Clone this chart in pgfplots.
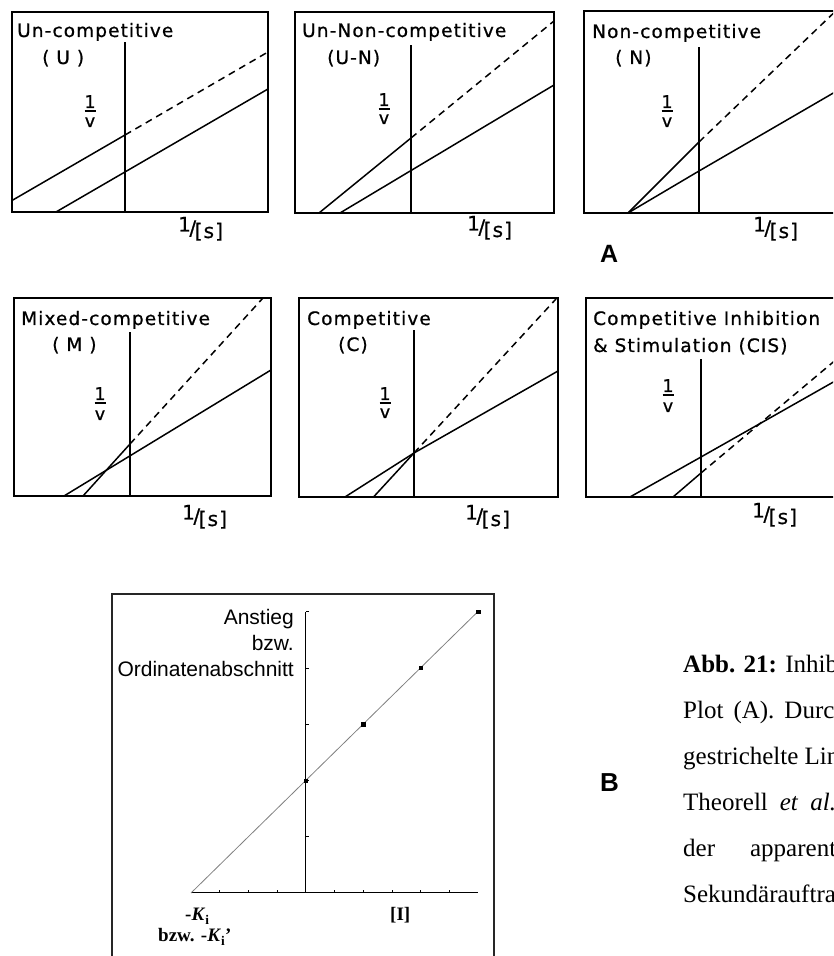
\documentclass[border=0pt]{standalone}
\usepackage{pgfplots}
\pgfplotsset{compat=1.18}
\usepackage{fontspec}
\setmainfont{Liberation Serif}
\newfontfamily\lett{DejaVu Sans}[LetterSpace=6, FakeBold=0.8]
\newfontfamily\arial{Liberation Sans}
\newcommand{\LT}{\lett\fontsize{18.5}{18.5}\selectfont}
\newcommand{\LS}{\lett\fontsize{17.5}{17.5}\selectfont}
\newcommand{\LB}{\lett\fontsize{20}{20}\selectfont}
\pgfplotsset{
  panel/.style={scale only axis, anchor=south west, xtick=\empty, ytick=\empty,
    axis line style={line width=1.7pt}, clip=true},
  inh/.style={line width=1.5pt, black},
  dsh/.style={line width=1.5pt, black, dash pattern=on 7pt off 5pt},
}
% 1/v label: center x, baseline of 1, bar y, baseline of v  (pixel coords from top)
\newcommand{\ov}[4]{%
  \node[anchor=base, inner sep=0, font=\LS] at (#1,956-#2) {1};
  \node[inner sep=0] at (#1,956-#3) {\rule{11pt}{1.4pt}};
  \node[anchor=base, inner sep=0, font=\LS] at (#1,956-#4) {v};}
\newcommand{\os}[2]{%
  \node[anchor=base west, inner sep=0, font=\LB] at (#1,956-#2) {\raisebox{3.5pt}{1}\kern-1.5pt/\kern-1.5pt\raisebox{-3pt}{[s]}};}
\begin{document}
\begin{tikzpicture}[x=1pt,y=1pt]
\clip (0,0) rectangle (833,956);
% ---------- U ----------
\begin{axis}[panel, at={(12pt,744pt)}, width=256pt, height=200pt, xmin=-113, xmax=143, ymin=0, ymax=200]
\addplot[inh] coordinates {(0,0)(0,170)};
\addplot[inh] coordinates {(-113,11.5)(0,77)};
\addplot[dsh] coordinates {(0,77)(143,160)};
\addplot[inh] coordinates {(-69,0)(143,123)};
\end{axis}
% ---------- U-N ----------
\begin{axis}[panel, at={(295pt,743pt)}, width=259pt, height=201pt, xmin=-116, xmax=143, ymin=0, ymax=201]
\addplot[inh] coordinates {(0,0)(0,168)};
\addplot[inh] coordinates {(-92,0)(0,75)};
\addplot[dsh] coordinates {(0,75)(143,192)};
\addplot[inh] coordinates {(-71,0)(143,128)};
\end{axis}
% ---------- N ----------
\begin{axis}[panel, at={(584pt,743pt)}, width=258pt, height=202pt, xmin=-115, xmax=143, ymin=0, ymax=202]
\addplot[inh] coordinates {(0,0)(0,166)};
\addplot[inh] coordinates {(-71,0)(0,71)};
\addplot[dsh] coordinates {(0,71)(143,208)};
\addplot[inh] coordinates {(-71,0)(0,42)(143,125)};
\end{axis}
% ---------- M ----------
\begin{axis}[panel, at={(14pt,460pt)}, width=257pt, height=198pt, xmin=-116, xmax=141, ymin=0, ymax=198]
\addplot[inh] coordinates {(0,0)(0,164)};
\addplot[inh] coordinates {(-47,0)(0,52)};
\addplot[dsh] coordinates {(0,52)(133,198)};
\addplot[inh] coordinates {(-66,0)(141,126)};
\end{axis}
% ---------- C ----------
\begin{axis}[panel, at={(299pt,459pt)}, width=259pt, height=199pt, xmin=-115, xmax=144, ymin=0, ymax=199]
\addplot[inh] coordinates {(0,0)(0,167)};
\addplot[inh] coordinates {(-40.5,0)(0,44)};
\addplot[dsh] coordinates {(0,44)(142,198)};
\addplot[inh] coordinates {(-69,0)(0,44)(144,126)};
\end{axis}
% ---------- CIS ----------
\begin{axis}[panel, at={(586pt,459pt)}, width=258pt, height=199pt, xmin=-115, xmax=143, ymin=0, ymax=199]
\addplot[inh] coordinates {(0,0)(0,138)};
\addplot[inh] coordinates {(-71,0)(0,40)(143,121)};
\addplot[inh] coordinates {(-28,0)(0,24)};
\addplot[dsh] coordinates {(0,24)(143,144)};
\end{axis}
% ---------- panel texts ----------
\node[anchor=base west, inner sep=0, font=\LT] at (17,919) {Un-competitive};
\node[anchor=base west, inner sep=0, font=\LT] at (42,892) {( U )};
\node[anchor=base west, inner sep=0, font=\LT] at (302,919) {Un-Non-competitive};
\node[anchor=base west, inner sep=0, font=\LT] at (327,892) {(U-N)};
\node[anchor=base west, inner sep=0, font=\LT] at (592,918) {Non-competitive};
\node[anchor=base west, inner sep=0, font=\LT] at (615,892) {( N)};
\node[anchor=base west, inner sep=0, font=\LT] at (21,631) {Mixed-competitive};
\node[anchor=base west, inner sep=0, font=\LT] at (52,605) {( M )};
\node[anchor=base west, inner sep=0, font=\LT] at (307,631) {Competitive};
\node[anchor=base west, inner sep=0, font=\LT] at (338,605) {(C)};
\node[anchor=base west, inner sep=0, font=\LT] at (593,631) {Competitive Inhibition};
\node[anchor=base west, inner sep=0, font=\LT] at (593,604) {\& Stimulation (CIS)};
\ov{90}{108}{111}{127}
\ov{384}{106}{109}{124}
\ov{667}{108}{111}{127}
\ov{100}{400}{403}{420}
\ov{385}{400}{403}{418}
\ov{668}{392}{395}{412}
\os{178}{235}
\os{467}{234}
\os{753}{235}
\os{182}{523}
\os{465}{523}
\os{752}{521}
\node[anchor=base west, inner sep=0, font=\arial\bfseries\fontsize{25}{25}\selectfont] at (600,693) {A};
% ---------- panel B ----------
\draw[line width=1.4pt, black!85] (112,362) rectangle (494,-10);
\begin{axis}[scale only axis, anchor=south west, at={(191pt,63pt)}, width=287pt, height=281.5pt,
  xmin=-4, xmax=6, ymin=0, ymax=5, axis line style={draw=none},
  xtick=\empty, ytick=\empty, clip=false]
% axis lines
\addplot[black, line width=1pt] coordinates {(-4,0)(6,0)};
\addplot[black, line width=1pt] coordinates {(0,0)(0,5)};
% tick marks (x: pointing up, y: pointing right)
\addplot[ycomb, black, line width=0.5pt] coordinates {(-3,0.055)(-2,0.055)(-1,0.055)(1,0.055)(2,0.055)(3,0.055)(4,0.055)(5,0.055)};
\addplot[xcomb, black, line width=0.5pt] coordinates {(0.11,1)(0.11,2)(0.11,3)(0.11,4)(0.11,5)};
% secondary plot
\addplot[gray, line width=0.8pt] coordinates {(-4,0)(6,5)};
\addplot[only marks, mark=square*, mark size=1.7pt, black] coordinates {(0,2)(2,3)(4,4)(6,5)};
\end{axis}
\node[anchor=base east, inner sep=0, font=\arial\fontsize{21}{21}\selectfont] at (294,331) {Anstieg};
\node[anchor=base east, inner sep=0, font=\arial\fontsize{21}{21}\selectfont] at (294,305) {bzw.};
\node[anchor=base east, inner sep=0, font=\arial\fontsize{21}{21}\selectfont] at (294,279) {Ordinatenabschnitt};
\node[anchor=base west, inner sep=0, font=\bfseries\fontsize{19}{19}\selectfont] at (185,35) {-\textit{K}\textsubscript{i}};
\node[anchor=base west, inner sep=0, font=\bfseries\fontsize{19}{19}\selectfont] at (158,14) {bzw. -\textit{K}\textsubscript{i}'};
\node[anchor=base west, inner sep=0, font=\bfseries\fontsize{19}{19}\selectfont] at (390,35) {[I]};
\node[anchor=base west, inner sep=0, font=\arial\bfseries\fontsize{26}{26}\selectfont] at (600,164) {B};
% ---------- caption ----------
\begin{scope}[every node/.style={anchor=base west, inner sep=0, font=\fontsize{25}{25}\selectfont}]
\node at (683,283) {\textbf{Abb. 21:} Inhibitionstypen};
\node at (683,237) {Plot\hspace{10pt}(A).\hspace{10pt}Durchgezogene};
\node at (683,191) {gestrichelte Linie};
\node at (683,145) {Theorell\hspace{12pt}\textit{et}\hspace{12pt}\textit{al.}};
\node at (683,99) {der\hspace{35pt}apparenten};
\node at (683,53) {Sekundärauftragung};
\end{scope}
\end{tikzpicture}
\end{document}
